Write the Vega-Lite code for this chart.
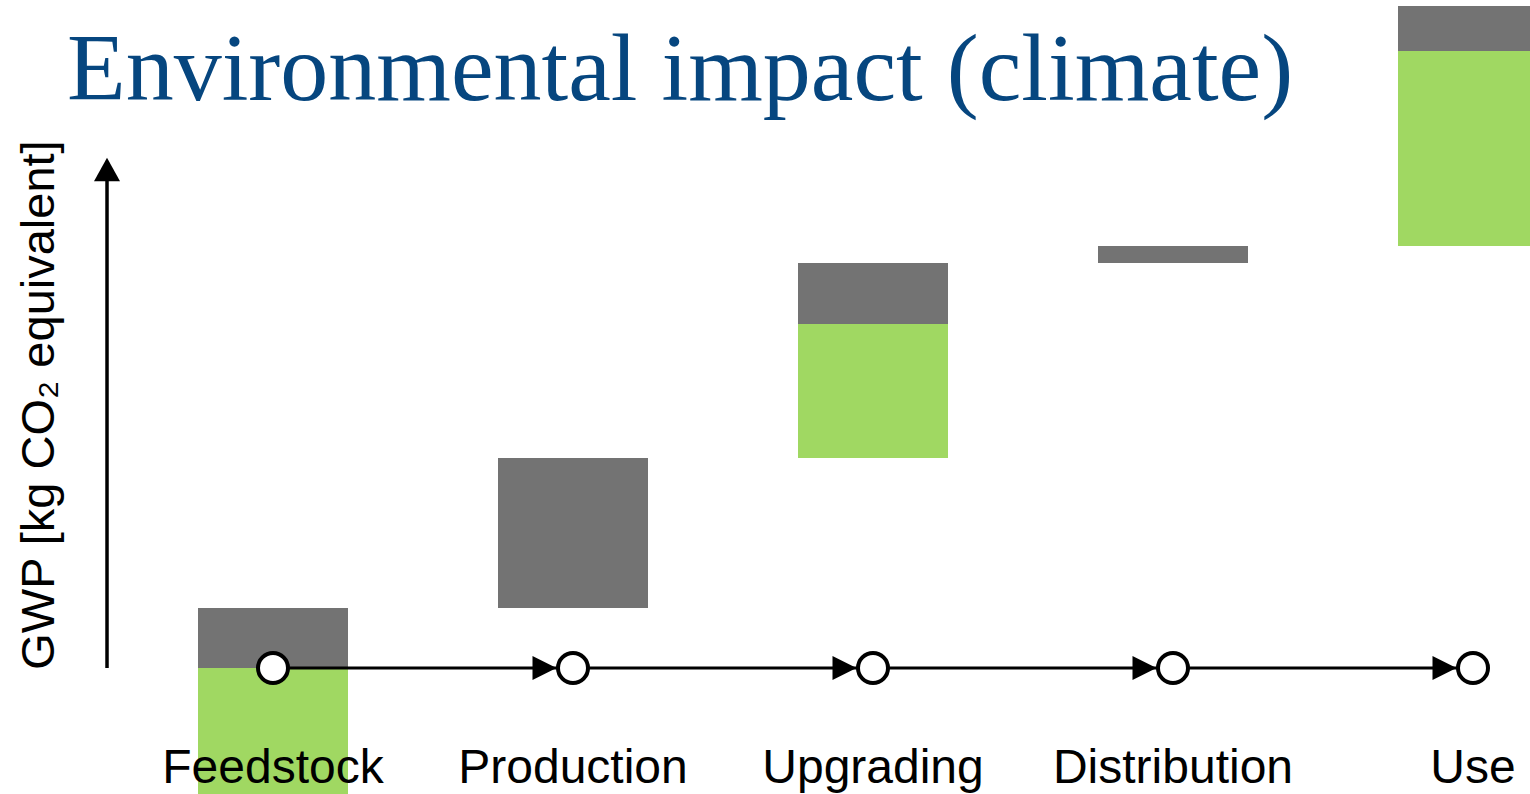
{
  "$schema": "https://vega.github.io/schema/vega-lite/v6.json",
  "autosize": "none",
  "width": 1530,
  "height": 794,
  "padding": 0,
  "background": "white",
  "config": {"view": {"stroke": null}},
  "datasets": {
    "bars": [
      {"stage": "Feedstock", "idx": 0, "component": "biogenic", "lo": 0, "hi": -140},
      {"stage": "Feedstock", "idx": 0, "component": "fossil", "lo": 0, "hi": 60},
      {"stage": "Production", "idx": 1, "component": "fossil", "lo": 60, "hi": 210},
      {"stage": "Upgrading", "idx": 2, "component": "biogenic", "lo": 210, "hi": 344},
      {"stage": "Upgrading", "idx": 2, "component": "fossil", "lo": 344, "hi": 405},
      {"stage": "Distribution", "idx": 3, "component": "fossil", "lo": 405, "hi": 422},
      {"stage": "Use", "idx": 4, "component": "biogenic", "lo": 422, "hi": 617},
      {"stage": "Use", "idx": 4, "component": "fossil", "lo": 617, "hi": 662}
    ],
    "stages": [
      {"stage": "Feedstock", "idx": 0},
      {"stage": "Production", "idx": 1},
      {"stage": "Upgrading", "idx": 2},
      {"stage": "Distribution", "idx": 3},
      {"stage": "Use", "idx": 4}
    ],
    "links": [
      {"from": 0, "to": 1},
      {"from": 1, "to": 2},
      {"from": 2, "to": 3},
      {"from": 3, "to": 4}
    ]
  },
  "layer": [
    {
      "data": {"name": "bars"},
      "mark": {"type": "bar", "width": 150, "clip": true},
      "encoding": {
        "x": {"field": "idx", "type": "quantitative", "scale": {"domain": [-0.91, 4.19], "nice": false, "zero": false, "padding": 0}, "axis": null},
        "y": {"field": "lo", "type": "quantitative", "scale": {"domain": [-126, 668], "nice": false, "zero": false, "padding": 0}, "axis": null},
        "y2": {"field": "hi"},
        "color": {"field": "component", "type": "nominal", "scale": {"domain": ["biogenic", "fossil"], "range": ["#A0D862", "#737373"]}, "legend": null}
      }
    },
    {
      "data": {"name": "links"},
      "mark": {"type": "rule", "color": "black", "strokeWidth": 3},
      "encoding": {
        "x": {"field": "from", "type": "quantitative"},
        "x2": {"field": "to"},
        "y": {"datum": 0, "type": "quantitative"}
      }
    },
    {
      "data": {"name": "links"},
      "mark": {"type": "point", "shape": "M-1,-1L1,0L-1,1Z", "filled": true, "color": "black", "opacity": 1, "size": 576, "xOffset": -28.5},
      "encoding": {
        "x": {"field": "to", "type": "quantitative"},
        "y": {"datum": 0, "type": "quantitative"}
      }
    },
    {
      "data": {"name": "stages"},
      "mark": {"type": "point", "shape": "circle", "filled": true, "fill": "white", "stroke": "black", "strokeWidth": 4, "opacity": 1, "size": 900},
      "encoding": {
        "x": {"field": "idx", "type": "quantitative"},
        "y": {"datum": 0, "type": "quantitative"}
      }
    },
    {
      "data": {"name": "stages"},
      "mark": {"type": "text", "font": "Liberation Sans", "fontSize": 48, "color": "black", "align": "center", "baseline": "alphabetic"},
      "encoding": {
        "x": {"field": "idx", "type": "quantitative"},
        "y": {"datum": -115, "type": "quantitative"},
        "text": {"field": "stage"}
      }
    },
    {
      "data": {"values": [{}]},
      "mark": {"type": "rule", "color": "black", "strokeWidth": 3.5},
      "encoding": {
        "x": {"datum": -0.5533, "type": "quantitative"},
        "y": {"datum": 0, "type": "quantitative"},
        "y2": {"datum": 490}
      }
    },
    {
      "data": {"values": [{}]},
      "mark": {"type": "point", "shape": "M-1,0.9L0,-0.9L1,0.9Z", "filled": true, "color": "black", "opacity": 1, "size": 676},
      "encoding": {
        "x": {"datum": -0.5533, "type": "quantitative"},
        "y": {"datum": 498.5, "type": "quantitative"}
      }
    },
    {
      "data": {"values": [{"label": "GWP [kg CO₂ equivalent]"}]},
      "mark": {"type": "text", "font": "Liberation Sans", "fontSize": 47, "color": "black", "angle": 270, "align": "center", "baseline": "middle"},
      "encoding": {
        "x": {"datum": -0.7767, "type": "quantitative"},
        "y": {"datum": 263, "type": "quantitative"},
        "text": {"field": "label"}
      }
    },
    {
      "data": {"values": [{"label": "Environmental impact (climate)"}]},
      "mark": {"type": "text", "font": "Liberation Serif", "fontSize": 96, "color": "#06467F", "align": "left", "baseline": "alphabetic"},
      "encoding": {
        "x": {"datum": -0.6867, "type": "quantitative"},
        "y": {"datum": 568, "type": "quantitative"},
        "text": {"field": "label"}
      }
    }
  ]
}
